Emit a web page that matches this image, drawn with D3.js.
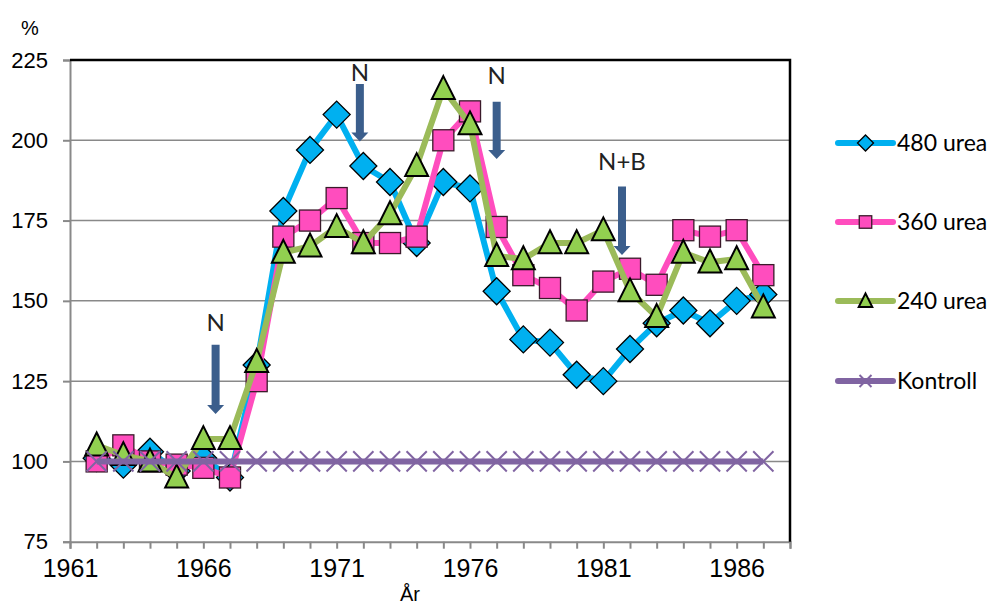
<!DOCTYPE html>
<meta charset="utf-8">
<html>
  <head>
    <script src="https://d3js.org/d3.v7.min.js"></script>
    <style>
      body { margin: 0; background: #fff; }
    </style>
  </head>
  <body>
    <div id="chart"></div>

    <script type="text/javascript">
      var years = d3.range(1962, 1988);
      var urea480 = [101, 99, 103, 97, 101, 95, 130, 178, 197, 208, 192, 187, 168, 187, 185, 153, 138, 137, 127, 125, 135, 143, 147, 143, 150, 152];
      var urea360 = [100, 105, 100, 99, 98, 95, 125, 170, 175, 182, 168, 168, 170, 200, 209, 173, 158, 154, 147, 156, 160, 155, 172, 170, 172, 158];
      var urea240 = [105, 102, 100, 95, 107, 107, 131, 165, 167, 173, 168, 177, 192, 216, 205, 164, 163, 168, 168, 172, 153, 145, 165, 162, 163, 148];
      var kontroll = [100, 100, 100, 100, 100, 100, 100, 100, 100, 100, 100, 100, 100, 100, 100, 100, 100, 100, 100, 100, 100, 100, 100, 100, 100, 100];
      var seriesNames = ["480 urea", "360 urea", "240 urea", "Kontroll"];
      var yTicks = [75, 100, 125, 150, 175, 200, 225];
      var xTickLabels = [1961, 1966, 1971, 1976, 1981, 1986];
      // arrows: year, top value, tip value, label value, label
      var arrowYear = [1966.46, 1971.87, 1977.0, 1981.7];
      var arrowTop = [136.3, 217.5, 212, 185.6];
      var arrowTip = [114.8, 199.6, 194.2, 164.3];
      var arrowLabelAt = [143.4, 221, 220.3, 193.3];
      var arrowLabels = ["N", "N", "N", "N+B"];

      var width = 996, height = 606,
          plotLeft = 70, plotRight = 790, plotTop = 60, plotBottom = 541.7;

      var styles = [
        { line: "#00B0F0", fill: "#00B0F0", shape: "diamond" },
        { line: "#FF4DBE", fill: "#FF4DBE", shape: "square" },
        { line: "#9BBB59", fill: "#92D050", shape: "triangle" },
        { line: "#8064A2", fill: "none", shape: "x" }
      ];

      var x = d3.scaleLinear().domain([1961, 1988]).range([plotLeft, plotRight]);
      var y = d3.scaleLinear().domain([75, 225]).range([plotBottom, plotTop]);

      var svg = d3.select("#chart").append("svg")
          .attr("width", width)
          .attr("height", height);

      // gridlines
      svg.append("g")
          .selectAll("line")
          .data(yTicks.slice(1))
          .enter().append("line")
          .attr("x1", plotLeft).attr("x2", plotRight)
          .attr("y1", function(d){ return y(d); })
          .attr("y2", function(d){ return y(d); })
          .style("stroke", "#898989")
          .style("stroke-width", "1.5px");

      // y axis
      var yAxis = svg.append("g")
          .attr("transform", "translate(" + plotLeft + ",0)")
          .call(d3.axisLeft(y).tickValues(yTicks).tickSize(7).tickPadding(15));
      yAxis.select(".domain").style("stroke", "#898989").style("stroke-width", "2px");
      yAxis.selectAll(".tick line").style("stroke", "#898989").style("stroke-width", "2px");
      yAxis.selectAll("text")
          .style("font-family", "'Liberation Sans', Arial, sans-serif")
          .style("font-size", "22px")
          .style("fill", "#000");

      // x axis
      var xAxis = svg.append("g")
          .attr("transform", "translate(0," + plotBottom + ")")
          .call(d3.axisBottom(x).tickValues(d3.range(1961, 1989)).tickSize(7).tickPadding(11)
              .tickFormat(function(d){ return xTickLabels.indexOf(d) >= 0 ? d : ""; }));
      xAxis.select(".domain").style("stroke", "#898989").style("stroke-width", "2px");
      xAxis.selectAll(".tick line").style("stroke", "#898989").style("stroke-width", "2px");
      xAxis.selectAll("text")
          .style("font-family", "'Liberation Sans', Arial, sans-serif")
          .style("font-size", "25px")
          .style("fill", "#000");

      // top and right border
      svg.append("path")
          .attr("d", "M" + plotLeft + "," + plotTop + "H" + plotRight + "V" + plotBottom)
          .style("fill", "none")
          .style("stroke", "#000")
          .style("stroke-width", "2.5px");

      svg.append("text")
          .attr("x", 30).attr("y", 35)
          .attr("text-anchor", "middle")
          .style("font-family", "'Liberation Sans', Arial, sans-serif")
          .style("font-size", "20px")
          .text("%");

      svg.append("text")
          .attr("x", 410).attr("y", 601)
          .attr("text-anchor", "middle")
          .style("font-family", "'Liberation Sans', Arial, sans-serif")
          .style("font-size", "20px")
          .text("År");

      function marker(g, shape, st, size) {
        var s = size;
        if (shape == "diamond") {
          g.append("path").attr("d", "M0," + (-s) + "L" + s + ",0L0," + s + "L" + (-s) + ",0Z")
              .style("fill", st.fill).style("stroke", "#000").style("stroke-width", "1.3px");
        } else if (shape == "square") {
          var h = s * 0.78;
          g.append("rect").attr("x", -h).attr("y", -h).attr("width", 2 * h).attr("height", 2 * h)
              .style("fill", st.fill).style("stroke", "#3a1a2a").style("stroke-width", "1.3px");
        } else if (shape == "triangle") {
          g.append("path").attr("d", "M0," + (-s * 0.95) + "L" + (s * 0.85) + "," + (s * 0.75) + "L" + (-s * 0.85) + "," + (s * 0.75) + "Z")
              .style("fill", st.fill).style("stroke", "#000").style("stroke-width", "2px")
              .style("stroke-linejoin", "miter");
        } else {
          var k = s * 0.75;
          g.append("path").attr("d", "M" + (-k) + "," + (-k) + "L" + k + "," + k + "M" + k + "," + (-k) + "L" + (-k) + "," + k)
              .style("stroke", st.line).style("stroke-width", "2px");
        }
      }

      var allSeries = [urea480, urea360, urea240, kontroll];
      var line = d3.line()
          .x(function(d){ return x(d[0]); })
          .y(function(d){ return y(d[1]); });

      allSeries.forEach(function(vals, i){
        var pts = years.map(function(yr, j){ return [yr, vals[j]]; });
        var g = svg.append("g");
        g.append("path")
            .datum(pts)
            .attr("d", line)
            .style("fill", "none")
            .style("stroke", styles[i].line)
            .style("stroke-width", "6px")
            .style("stroke-linejoin", "round");
        pts.forEach(function(p){
          var m = g.append("g").attr("transform", "translate(" + x(p[0]) + "," + y(p[1]) + ")");
          marker(m, styles[i].shape, styles[i], 13.5);
        });
      });

      // arrows
      arrowYear.forEach(function(yr, i){
        var ax = x(yr), t = y(arrowTop[i]), b = y(arrowTip[i]);
        svg.append("path")
            .attr("d", "M" + (ax - 4) + "," + t + "H" + (ax + 4) + "V" + (b - 9) + "H" + (ax + 8.5) +
                  "L" + ax + "," + b + "L" + (ax - 8.5) + "," + (b - 9) + "H" + (ax - 4) + "Z")
            .style("fill", "#3B5E8C");
        svg.append("text")
            .attr("x", ax).attr("y", y(arrowLabelAt[i]))
            .attr("dy", "0.36em")
            .attr("text-anchor", "middle")
            .style("font-family", "Lato, 'Open Sans', sans-serif")
            .style("font-size", "24px")
            .style("fill", "#222")
            .text(arrowLabels[i]);
      });

      // legend
      var legY = [143, 222, 301, 381];
      seriesNames.forEach(function(name, i){
        var g = svg.append("g").attr("transform", "translate(838," + legY[i] + ")");
        g.append("line").attr("x1", 0).attr("x2", 55)
            .style("stroke", styles[i].line).style("stroke-width", "6px").style("stroke-linecap", "round");
        var m = g.append("g").attr("transform", "translate(27.5,0)");
        marker(m, styles[i].shape, styles[i], 8);
        g.append("text").attr("x", 59).attr("dy", "0.36em")
            .style("font-family", "Lato, 'Open Sans', sans-serif")
            .style("font-size", "23px")
            .style("fill", "#000")
            .text(name);
      });
    </script>
  </body>
</html>
